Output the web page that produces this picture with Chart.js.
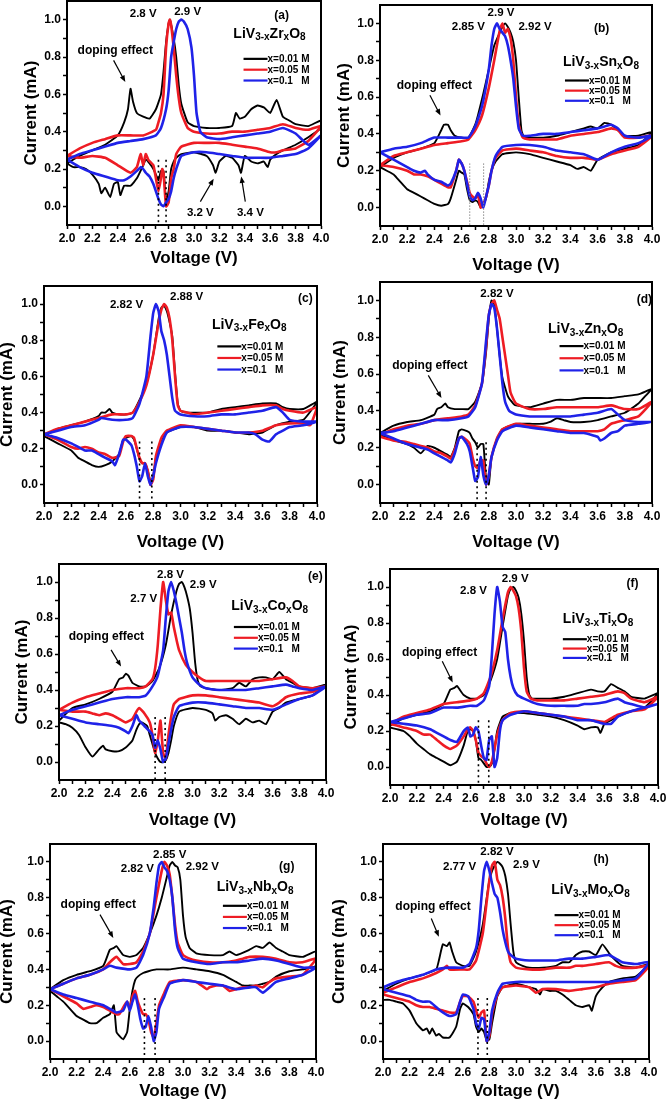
<!DOCTYPE html>
<html>
<head>
<meta charset="utf-8">
<title>CV curves of doped LiV3O8</title>
<script src="https://cdn.jsdelivr.net/npm/chart.js@4.4.1/dist/chart.umd.min.js"></script>
<style>
  html, body { margin: 0; padding: 0; background: #fff; }
  #page { position: relative; width: 666px; height: 1102px; overflow: hidden; background: #fff; }
  #page canvas { position: absolute; }
</style>
</head>
<body>
<div id="page"></div>
<script>
// tick labels
const voltTicks = [2.0, 2.2, 2.4, 2.6, 2.8, 3.0, 3.2, 3.4, 3.6, 3.8, 4.0];
const currentTicks = [0.0, 0.2, 0.4, 0.6, 0.8, 1.0];

const seriesLabels = ['x=0.01 M', 'x=0.05 M', 'x=0.1   M'];
const seriesColors = ['#000000', '#ee1c24', '#1f22e8'];
const dopants = ['Zr', 'Sn', 'Fe', 'Zn', 'Co', 'Ti', 'Nb', 'Mo'];
const panelTags = ['(a)', '(b)', '(c)', '(d)', '(e)', '(f)', '(g)', '(h)'];

// CV loops [V, mA]: anodic sweep 2.0 -> 4.0, then cathodic sweep back to 2.0
const zr001 = [[2.0,.23],[2.1,.27],[2.2,.30],[2.3,.33],[2.4,.38],[2.45,.45],[2.48,.52],[2.5,.63],[2.52,.56],[2.55,.5],[2.6,.48],[2.65,.47],[2.7,.52],[2.74,.6],[2.76,.72],[2.78,.88],[2.8,.98],[2.81,1.0],[2.84,.9],[2.86,.8],[2.88,.65],[2.9,.55],[2.95,.45],[3.0,.43],[3.1,.42],[3.2,.42],[3.3,.43],[3.33,.5],[3.36,.47],[3.4,.48],[3.45,.52],[3.5,.54],[3.55,.53],[3.6,.5],[3.65,.57],[3.7,.48],[3.75,.46],[3.8,.44],[3.9,.43],[4.0,.46],
  [4.0,.42],[3.9,.37],[3.8,.33],[3.7,.30],[3.65,.28],[3.6,.25],[3.58,.21],[3.55,.24],[3.5,.23],[3.45,.24],[3.4,.27],[3.37,.18],[3.35,.22],[3.3,.26],[3.25,.27],[3.2,.24],[3.17,.18],[3.15,.22],[3.1,.27],[3.0,.29],[2.9,.28],[2.86,.26],[2.84,.24],[2.82,.2],[2.8,.08],[2.78,.03],[2.76,.19],[2.74,.19],[2.72,.14],[2.7,.17],[2.68,.2],[2.65,.23],[2.62,.25],[2.6,.22],[2.55,.15],[2.5,.11],[2.45,.11],[2.42,.06],[2.4,.13],[2.37,.12],[2.34,.05],[2.3,.10],[2.27,.07],[2.25,.12],[2.2,.17],[2.15,.2],[2.1,.21],[2.05,.21],[2.0,.23]];
const zr005 = [[2.0,.27],[2.1,.31],[2.2,.34],[2.3,.36],[2.4,.38],[2.5,.38],[2.6,.38],[2.7,.41],[2.72,.45],[2.74,.5],[2.76,.6],[2.78,.85],[2.8,.98],[2.81,1.0],[2.82,.97],[2.84,.85],[2.86,.7],[2.88,.58],[2.9,.5],[2.95,.42],[3.0,.40],[3.1,.39],[3.2,.39],[3.3,.40],[3.4,.40],[3.5,.41],[3.6,.42],[3.7,.44],[3.8,.42],[3.9,.41],[4.0,.43],
  [3.9,.35],[3.8,.31],[3.7,.30],[3.65,.29],[3.6,.29],[3.5,.31],[3.4,.32],[3.3,.33],[3.2,.34],[3.1,.34],[3.0,.34],[2.9,.32],[2.86,.28],[2.84,.2],[2.82,.15],[2.8,.02],[2.78,0],[2.76,.18],[2.75,.2],[2.74,.15],[2.72,.08],[2.7,.15],[2.68,.22],[2.64,.25],[2.62,.28],[2.6,.22],[2.58,.28],[2.55,.21],[2.5,.18],[2.4,.22],[2.3,.26],[2.2,.27],[2.1,.26],[2.0,.27]];
const zr01 = [[2.0,.25],[2.1,.28],[2.2,.30],[2.3,.32],[2.4,.34],[2.5,.35],[2.6,.36],[2.7,.38],[2.74,.42],[2.78,.52],[2.8,.62],[2.82,.8],[2.84,.88],[2.86,.95],[2.88,.99],[2.9,1.0],[2.92,.99],[2.95,.95],[2.98,.85],[3.0,.7],[3.02,.5],[3.05,.4],[3.1,.37],[3.2,.36],[3.3,.37],[3.4,.38],[3.5,.39],[3.6,.40],[3.7,.42],[3.8,.39],[3.9,.33],[4.0,.38],
  [3.9,.31],[3.8,.28],[3.7,.27],[3.6,.26],[3.5,.26],[3.4,.26],[3.3,.27],[3.2,.28],[3.1,.29],[3.0,.29],[2.9,.27],[2.86,.2],[2.84,.15],[2.82,.08],[2.8,.04],[2.78,.02],[2.76,0],[2.74,.01],[2.72,.04],[2.7,.08],[2.68,.12],[2.65,.16],[2.62,.18],[2.6,.2],[2.58,.21],[2.55,.19],[2.5,.16],[2.45,.14],[2.4,.14],[2.3,.16],[2.2,.18],[2.1,.21],[2.0,.25]];

const sn001 = [[2.0,.22],[2.1,.27],[2.2,.30],[2.3,.32],[2.4,.35],[2.45,.42],[2.47,.45],[2.5,.45],[2.52,.42],[2.55,.39],[2.6,.38],[2.65,.38],[2.7,.45],[2.72,.5],[2.76,.62],[2.8,.75],[2.84,.88],[2.88,.95],[2.9,.98],[2.92,1.0],[2.94,.98],[2.96,.95],[2.98,.9],[3.0,.8],[3.02,.6],[3.04,.42],[3.06,.38],[3.1,.38],[3.2,.38],[3.3,.39],[3.4,.41],[3.5,.43],[3.55,.44],[3.6,.43],[3.65,.46],[3.7,.45],[3.75,.42],[3.8,.39],[3.9,.39],[4.0,.41],
  [3.9,.34],[3.8,.32],[3.7,.3],[3.6,.26],[3.55,.2],[3.5,.22],[3.45,.21],[3.4,.23],[3.3,.25],[3.2,.27],[3.1,.29],[3.0,.3],[2.9,.29],[2.85,.25],[2.82,.2],[2.8,.14],[2.78,.05],[2.76,.02],[2.74,0],[2.72,.03],[2.7,.04],[2.68,.03],[2.66,.04],[2.64,.1],[2.62,.18],[2.6,.19],[2.58,.2],[2.56,.15],[2.52,.05],[2.5,.02],[2.45,.01],[2.4,.02],[2.35,.04],[2.3,.06],[2.25,.08],[2.2,.1],[2.15,.14],[2.1,.18],[2.05,.2],[2.0,.22]];
const sn005 = [[2.0,.23],[2.1,.28],[2.2,.3],[2.3,.32],[2.4,.34],[2.5,.35],[2.6,.36],[2.65,.37],[2.7,.42],[2.75,.5],[2.8,.65],[2.84,.8],[2.88,.96],[2.9,1.0],[2.92,.95],[2.94,.97],[2.96,.92],[2.98,.8],[3.0,.6],[3.02,.45],[3.05,.38],[3.1,.37],[3.2,.37],[3.3,.37],[3.4,.39],[3.5,.4],[3.6,.41],[3.7,.43],[3.75,.42],[3.8,.38],[3.9,.38],[4.0,.39],
  [3.9,.33],[3.8,.31],[3.7,.29],[3.6,.26],[3.5,.27],[3.4,.27],[3.3,.28],[3.2,.3],[3.1,.31],[3.0,.32],[2.9,.31],[2.85,.27],[2.82,.2],[2.8,.12],[2.78,.06],[2.76,.02],[2.74,0],[2.72,.07],[2.7,.05],[2.68,.06],[2.66,.08],[2.64,.14],[2.62,.2],[2.6,.24],[2.58,.26],[2.56,.2],[2.52,.11],[2.5,.11],[2.45,.13],[2.4,.15],[2.35,.17],[2.3,.18],[2.25,.18],[2.2,.2],[2.1,.22],[2.0,.23]];
const sn01 = [[2.0,.3],[2.1,.32],[2.2,.33],[2.3,.35],[2.4,.38],[2.5,.38],[2.6,.38],[2.65,.38],[2.7,.44],[2.75,.55],[2.8,.75],[2.82,.88],[2.84,.97],[2.86,1.0],[2.88,.97],[2.9,.95],[2.92,.93],[2.94,.88],[2.96,.8],[2.98,.7],[3.0,.55],[3.02,.43],[3.05,.39],[3.1,.39],[3.2,.4],[3.3,.4],[3.4,.41],[3.5,.42],[3.6,.43],[3.65,.44],[3.7,.45],[3.75,.43],[3.8,.39],[3.9,.38],[4.0,.39],
  [3.9,.35],[3.8,.33],[3.7,.3],[3.6,.26],[3.5,.29],[3.4,.3],[3.3,.31],[3.2,.33],[3.1,.34],[3.0,.34],[2.9,.33],[2.85,.28],[2.82,.2],[2.8,.12],[2.78,.06],[2.76,0],[2.74,.05],[2.72,.08],[2.7,.05],[2.68,.04],[2.66,.06],[2.64,.13],[2.62,.2],[2.6,.24],[2.58,.26],[2.56,.2],[2.52,.13],[2.5,.12],[2.45,.14],[2.4,.15],[2.35,.18],[2.33,.2],[2.3,.19],[2.25,.2],[2.2,.22],[2.1,.26],[2.0,.3]];

const fe001 = [[2.0,.27],[2.1,.31],[2.2,.33],[2.3,.35],[2.4,.38],[2.42,.4],[2.45,.4],[2.48,.42],[2.5,.4],[2.55,.39],[2.6,.39],[2.65,.4],[2.7,.47],[2.75,.56],[2.8,.72],[2.84,.92],[2.86,.98],[2.88,.99],[2.9,.96],[2.92,.9],[2.94,.82],[2.96,.62],[2.98,.45],[3.0,.41],[3.05,.4],[3.1,.4],[3.2,.4],[3.3,.42],[3.4,.43],[3.5,.44],[3.6,.45],[3.7,.45],[3.75,.43],[3.8,.42],[3.9,.42],[4.0,.46],
  [3.9,.36],[3.8,.35],[3.7,.33],[3.6,.29],[3.5,.28],[3.4,.29],[3.3,.3],[3.2,.3],[3.1,.32],[3.0,.32],[2.9,.29],[2.86,.25],[2.82,.15],[2.8,.04],[2.78,.02],[2.76,.08],[2.74,.12],[2.72,.12],[2.7,.14],[2.68,.2],[2.66,.25],[2.64,.27],[2.6,.26],[2.58,.25],[2.55,.17],[2.5,.13],[2.45,.11],[2.4,.1],[2.35,.11],[2.3,.13],[2.25,.15],[2.2,.19],[2.1,.23],[2.0,.27]];
const fe005 = [[2.0,.28],[2.1,.31],[2.2,.33],[2.3,.35],[2.4,.37],[2.5,.39],[2.6,.39],[2.65,.4],[2.7,.46],[2.75,.55],[2.8,.72],[2.84,.9],[2.86,.97],[2.88,1.0],[2.9,.98],[2.92,.92],[2.94,.8],[2.96,.6],[2.98,.44],[3.0,.41],[3.05,.4],[3.1,.39],[3.2,.4],[3.3,.41],[3.4,.42],[3.5,.43],[3.6,.44],[3.7,.44],[3.75,.42],[3.8,.41],[3.9,.4],[4.0,.43],
  [3.95,.33],[3.9,.34],[3.8,.34],[3.7,.33],[3.6,.3],[3.5,.29],[3.4,.29],[3.3,.3],[3.2,.31],[3.1,.32],[3.0,.33],[2.9,.3],[2.86,.26],[2.82,.16],[2.8,.03],[2.78,0],[2.76,.08],[2.74,.12],[2.72,.12],[2.7,.15],[2.68,.2],[2.66,.26],[2.64,.27],[2.6,.27],[2.58,.24],[2.55,.16],[2.5,.15],[2.45,.17],[2.4,.18],[2.35,.2],[2.3,.21],[2.25,.2],[2.2,.21],[2.1,.25],[2.0,.28]];
const fe01 = [[2.0,.28],[2.1,.3],[2.2,.32],[2.3,.33],[2.4,.36],[2.42,.37],[2.5,.36],[2.6,.36],[2.65,.37],[2.7,.45],[2.75,.6],[2.78,.82],[2.8,.95],[2.82,1.0],[2.84,.96],[2.86,.85],[2.88,.8],[2.9,.72],[2.92,.6],[2.94,.48],[2.96,.41],[3.0,.39],[3.1,.38],[3.2,.38],[3.3,.39],[3.4,.39],[3.5,.4],[3.6,.41],[3.7,.43],[3.75,.4],[3.8,.36],[3.9,.35],[4.0,.35],
  [3.9,.33],[3.8,.32],[3.75,.3],[3.7,.28],[3.65,.24],[3.6,.25],[3.55,.28],[3.5,.29],[3.4,.29],[3.3,.3],[3.2,.31],[3.1,.32],[3.0,.32],[2.9,.29],[2.86,.22],[2.82,.12],[2.8,.05],[2.78,0],[2.76,.05],[2.74,.12],[2.72,.05],[2.7,.02],[2.68,.1],[2.66,.17],[2.64,.22],[2.6,.25],[2.58,.25],[2.55,.17],[2.52,.11],[2.5,.13],[2.45,.15],[2.4,.17],[2.35,.19],[2.3,.19],[2.25,.21],[2.2,.23],[2.1,.26],[2.0,.28]];

const zn001 = [[2.0,.28],[2.1,.32],[2.2,.34],[2.3,.35],[2.4,.38],[2.42,.41],[2.45,.42],[2.48,.44],[2.5,.42],[2.55,.41],[2.6,.41],[2.65,.41],[2.7,.45],[2.75,.55],[2.78,.72],[2.8,.9],[2.82,1.0],[2.84,.98],[2.86,.85],[2.88,.7],[2.9,.58],[2.94,.48],[2.98,.44],[3.0,.43],[3.1,.42],[3.2,.44],[3.3,.46],[3.4,.46],[3.5,.47],[3.6,.47],[3.7,.47],[3.8,.48],[3.9,.49],[4.0,.52],
  [3.95,.48],[3.9,.44],[3.8,.39],[3.7,.37],[3.6,.35],[3.5,.34],[3.4,.34],[3.35,.35],[3.3,.36],[3.25,.34],[3.2,.33],[3.1,.33],[3.0,.33],[2.9,.3],[2.86,.25],[2.82,.15],[2.8,0],[2.78,.03],[2.76,.22],[2.74,.22],[2.72,.2],[2.7,.23],[2.68,.25],[2.66,.28],[2.64,.29],[2.6,.3],[2.58,.29],[2.55,.2],[2.52,.15],[2.5,.16],[2.45,.18],[2.4,.2],[2.35,.21],[2.3,.17],[2.25,.2],[2.2,.22],[2.1,.24],[2.0,.27]];
const zn005 = [[2.0,.27],[2.1,.3],[2.2,.32],[2.3,.33],[2.4,.35],[2.5,.36],[2.6,.37],[2.65,.38],[2.7,.43],[2.75,.55],[2.78,.75],[2.8,.92],[2.82,.98],[2.84,1.0],[2.86,.95],[2.88,.9],[2.9,.8],[2.92,.7],[2.94,.6],[2.96,.5],[3.0,.44],[3.1,.41],[3.2,.41],[3.3,.42],[3.4,.42],[3.5,.42],[3.6,.42],[3.7,.43],[3.75,.42],[3.8,.41],[3.9,.41],[4.0,.45],
  [3.9,.37],[3.8,.35],[3.7,.33],[3.65,.3],[3.6,.29],[3.5,.29],[3.4,.29],[3.3,.3],[3.2,.31],[3.1,.32],[3.0,.33],[2.9,.3],[2.86,.25],[2.82,.15],[2.8,.05],[2.78,0],[2.76,.13],[2.74,.13],[2.72,.09],[2.7,.1],[2.68,.15],[2.66,.22],[2.64,.24],[2.6,.26],[2.58,.25],[2.55,.19],[2.52,.14],[2.5,.15],[2.45,.17],[2.4,.18],[2.35,.2],[2.3,.21],[2.25,.22],[2.2,.23],[2.1,.24],[2.0,.26]];
const zn01 = [[2.0,.28],[2.1,.29],[2.2,.31],[2.3,.33],[2.4,.35],[2.5,.35],[2.6,.36],[2.65,.37],[2.7,.42],[2.75,.55],[2.78,.78],[2.8,.92],[2.82,.98],[2.84,.96],[2.86,.85],[2.88,.7],[2.9,.55],[2.92,.45],[2.95,.4],[3.0,.38],[3.1,.37],[3.2,.37],[3.3,.37],[3.4,.37],[3.5,.38],[3.6,.39],[3.7,.41],[3.75,.38],[3.8,.35],[3.9,.34],[4.0,.34],
  [3.9,.33],[3.8,.32],[3.75,.29],[3.7,.28],[3.65,.25],[3.62,.24],[3.6,.26],[3.5,.28],[3.4,.28],[3.3,.29],[3.2,.3],[3.1,.31],[3.0,.32],[2.9,.29],[2.86,.24],[2.82,.15],[2.8,.05],[2.78,0],[2.76,.05],[2.74,.15],[2.72,.04],[2.7,.02],[2.68,.1],[2.66,.18],[2.64,.22],[2.6,.26],[2.58,.25],[2.55,.17],[2.52,.12],[2.5,.13],[2.45,.15],[2.4,.17],[2.35,.19],[2.3,.2],[2.25,.21],[2.2,.22],[2.1,.25],[2.0,.28]];

const co001 = [[2.0,.23],[2.1,.3],[2.2,.32],[2.3,.35],[2.4,.39],[2.45,.46],[2.48,.47],[2.5,.49],[2.52,.48],[2.55,.44],[2.6,.42],[2.65,.42],[2.7,.45],[2.75,.52],[2.8,.65],[2.84,.82],[2.88,.95],[2.9,.99],[2.92,1.0],[2.94,.97],[2.96,.92],[2.98,.85],[3.0,.72],[3.02,.55],[3.04,.45],[3.06,.42],[3.1,.41],[3.2,.4],[3.3,.41],[3.35,.44],[3.4,.42],[3.45,.46],[3.5,.47],[3.55,.47],[3.6,.46],[3.65,.5],[3.7,.46],[3.75,.44],[3.8,.42],[3.9,.41],[4.0,.43],
  [3.9,.37],[3.8,.35],[3.7,.33],[3.65,.3],[3.6,.28],[3.55,.21],[3.5,.23],[3.45,.22],[3.4,.24],[3.35,.21],[3.3,.24],[3.25,.26],[3.2,.25],[3.17,.23],[3.15,.27],[3.1,.29],[3.0,.3],[2.9,.28],[2.86,.2],[2.84,.12],[2.82,.05],[2.8,.01],[2.78,0],[2.76,0],[2.74,.02],[2.72,.05],[2.7,.1],[2.68,.15],[2.66,.2],[2.62,.22],[2.6,.21],[2.58,.18],[2.55,.12],[2.5,.08],[2.45,.06],[2.4,.06],[2.35,.07],[2.33,.09],[2.3,.07],[2.25,.03],[2.2,.08],[2.15,.15],[2.1,.19],[2.05,.21],[2.0,.22]];
const co005 = [[2.0,.29],[2.1,.33],[2.2,.36],[2.3,.38],[2.4,.4],[2.5,.41],[2.6,.41],[2.65,.42],[2.7,.46],[2.72,.52],[2.74,.65],[2.76,.85],[2.78,1.0],[2.8,.9],[2.82,.82],[2.84,.83],[2.86,.75],[2.88,.68],[2.9,.62],[2.95,.54],[3.0,.5],[3.05,.47],[3.1,.45],[3.2,.45],[3.3,.45],[3.4,.45],[3.5,.45],[3.6,.46],[3.7,.47],[3.75,.45],[3.8,.42],[3.9,.41],[4.0,.42],
  [3.9,.39],[3.8,.38],[3.7,.36],[3.65,.33],[3.6,.31],[3.5,.33],[3.4,.34],[3.3,.35],[3.2,.36],[3.1,.37],[3.0,.37],[2.9,.35],[2.86,.32],[2.84,.25],[2.82,.15],[2.8,.02],[2.78,.05],[2.76,.23],[2.74,.12],[2.72,.05],[2.7,.15],[2.68,.22],[2.64,.27],[2.6,.3],[2.58,.28],[2.55,.24],[2.5,.22],[2.45,.24],[2.4,.26],[2.35,.27],[2.3,.26],[2.25,.27],[2.2,.28],[2.1,.28],[2.0,.29]];
const co01 = [[2.0,.26],[2.1,.29],[2.2,.31],[2.3,.33],[2.4,.35],[2.5,.36],[2.6,.36],[2.65,.37],[2.7,.42],[2.74,.48],[2.78,.62],[2.8,.8],[2.82,.95],[2.84,1.0],[2.86,.95],[2.88,.88],[2.9,.8],[2.92,.72],[2.94,.62],[2.96,.55],[3.0,.47],[3.05,.43],[3.1,.41],[3.2,.4],[3.3,.4],[3.4,.4],[3.5,.41],[3.6,.42],[3.7,.43],[3.75,.42],[3.8,.41],[3.9,.4],[4.0,.42],
  [3.9,.37],[3.8,.35],[3.7,.32],[3.6,.29],[3.5,.3],[3.4,.3],[3.3,.31],[3.2,.32],[3.1,.33],[3.0,.33],[2.9,.31],[2.86,.25],[2.84,.18],[2.82,.1],[2.8,.02],[2.78,0],[2.76,.07],[2.74,.12],[2.72,.08],[2.7,.15],[2.68,.17],[2.64,.2],[2.6,.23],[2.58,.26],[2.55,.2],[2.52,.16],[2.5,.17],[2.45,.19],[2.4,.2],[2.3,.21],[2.2,.22],[2.1,.24],[2.0,.26]];

const ti001 = [[2.0,.23],[2.1,.27],[2.2,.29],[2.3,.31],[2.4,.35],[2.45,.43],[2.48,.44],[2.5,.45],[2.52,.43],[2.55,.4],[2.6,.38],[2.65,.38],[2.7,.4],[2.75,.48],[2.8,.6],[2.84,.78],[2.88,.95],[2.9,.99],[2.92,1.0],[2.94,.98],[2.96,.94],[2.98,.85],[3.0,.7],[3.02,.5],[3.04,.4],[3.06,.38],[3.1,.38],[3.2,.38],[3.3,.39],[3.4,.41],[3.5,.43],[3.55,.42],[3.6,.42],[3.65,.46],[3.7,.44],[3.75,.42],[3.8,.39],[3.9,.38],[4.0,.41],
  [3.9,.33],[3.8,.31],[3.7,.28],[3.65,.26],[3.6,.24],[3.57,.19],[3.55,.22],[3.5,.22],[3.45,.21],[3.4,.23],[3.3,.26],[3.2,.28],[3.1,.29],[3.0,.3],[2.9,.3],[2.84,.28],[2.8,.2],[2.78,.1],[2.76,.02],[2.74,0],[2.72,0],[2.7,.02],[2.68,.04],[2.66,.05],[2.64,.15],[2.62,.2],[2.6,.21],[2.58,.2],[2.55,.12],[2.5,.03],[2.45,.01],[2.4,.03],[2.35,.05],[2.3,.07],[2.25,.1],[2.2,.13],[2.15,.17],[2.1,.2],[2.05,.21],[2.0,.22]];
const ti005 = [[2.0,.24],[2.1,.28],[2.2,.3],[2.3,.32],[2.4,.35],[2.5,.36],[2.6,.37],[2.65,.38],[2.7,.41],[2.75,.5],[2.8,.65],[2.84,.82],[2.88,.97],[2.9,1.0],[2.92,.98],[2.94,.95],[2.96,.88],[2.98,.75],[3.0,.55],[3.02,.42],[3.05,.38],[3.1,.37],[3.2,.37],[3.3,.37],[3.4,.38],[3.5,.39],[3.6,.4],[3.7,.42],[3.75,.41],[3.8,.38],[3.9,.36],[4.0,.39],
  [3.9,.32],[3.8,.31],[3.7,.29],[3.65,.27],[3.6,.25],[3.5,.26],[3.4,.27],[3.3,.28],[3.2,.29],[3.1,.3],[3.0,.31],[2.9,.3],[2.84,.26],[2.8,.18],[2.78,.1],[2.76,.03],[2.74,0],[2.72,.02],[2.7,.05],[2.68,.06],[2.66,.08],[2.64,.15],[2.62,.2],[2.6,.22],[2.58,.21],[2.55,.17],[2.5,.12],[2.45,.1],[2.4,.12],[2.35,.15],[2.3,.18],[2.25,.18],[2.2,.2],[2.1,.22],[2.0,.24]];
const ti01 = [[2.0,.25],[2.1,.27],[2.2,.29],[2.3,.3],[2.4,.33],[2.5,.33],[2.6,.34],[2.65,.34],[2.7,.37],[2.74,.45],[2.76,.62],[2.78,.85],[2.8,1.0],[2.82,.92],[2.84,.78],[2.86,.75],[2.88,.6],[2.9,.5],[2.92,.44],[2.95,.4],[3.0,.38],[3.1,.35],[3.2,.34],[3.3,.34],[3.4,.34],[3.45,.35],[3.5,.35],[3.6,.36],[3.7,.38],[3.75,.36],[3.8,.35],[3.9,.33],[4.0,.35],
  [3.9,.33],[3.8,.31],[3.7,.28],[3.65,.24],[3.6,.24],[3.5,.26],[3.4,.26],[3.3,.28],[3.2,.29],[3.1,.3],[3.0,.31],[2.9,.29],[2.84,.26],[2.82,.2],[2.8,.05],[2.78,0],[2.76,.17],[2.74,.15],[2.72,.04],[2.7,.05],[2.68,.12],[2.66,.2],[2.64,.22],[2.62,.18],[2.6,.17],[2.58,.22],[2.55,.2],[2.5,.14],[2.45,.15],[2.4,.17],[2.35,.19],[2.3,.21],[2.2,.23],[2.1,.24],[2.0,.25]];

const nb001 = [[2.0,.29],[2.1,.34],[2.2,.37],[2.3,.39],[2.4,.42],[2.45,.51],[2.48,.52],[2.5,.53],[2.52,.51],[2.55,.48],[2.6,.47],[2.65,.48],[2.7,.52],[2.75,.6],[2.8,.7],[2.84,.8],[2.88,.92],[2.9,.98],[2.92,1.0],[2.94,.98],[2.96,.97],[2.98,.9],[3.0,.7],[3.02,.58],[3.05,.52],[3.1,.49],[3.2,.48],[3.3,.48],[3.35,.5],[3.4,.48],[3.5,.51],[3.55,.53],[3.6,.52],[3.65,.55],[3.7,.52],[3.75,.5],[3.8,.48],[3.9,.47],[4.0,.5],
  [4.0,.42],[3.9,.4],[3.8,.39],[3.7,.36],[3.65,.33],[3.6,.32],[3.55,.31],[3.5,.31],[3.45,.31],[3.4,.33],[3.3,.37],[3.2,.39],[3.1,.4],[3.0,.41],[2.9,.4],[2.8,.4],[2.74,.39],[2.7,.38],[2.66,.36],[2.64,.34],[2.62,.28],[2.6,.18],[2.58,.05],[2.55,.01],[2.52,.03],[2.5,.05],[2.48,.2],[2.45,.15],[2.4,.13],[2.35,.1],[2.3,.1],[2.25,.12],[2.2,.14],[2.15,.18],[2.1,.22],[2.05,.25],[2.0,.28]];
const nb005 = [[2.0,.29],[2.1,.32],[2.2,.35],[2.3,.37],[2.4,.4],[2.45,.44],[2.5,.47],[2.55,.43],[2.6,.43],[2.65,.44],[2.7,.5],[2.75,.6],[2.8,.8],[2.84,.95],[2.86,1.0],[2.88,.98],[2.9,.93],[2.92,.8],[2.94,.65],[2.96,.55],[3.0,.48],[3.05,.46],[3.1,.45],[3.2,.44],[3.3,.44],[3.4,.45],[3.45,.46],[3.5,.47],[3.6,.47],[3.7,.46],[3.8,.44],[3.9,.44],[4.0,.46],
  [3.9,.37],[3.8,.36],[3.7,.35],[3.65,.33],[3.6,.3],[3.55,.31],[3.5,.3],[3.45,.3],[3.4,.29],[3.35,.28],[3.3,.31],[3.25,.31],[3.2,.3],[3.18,.29],[3.1,.33],[3.0,.34],[2.9,.33],[2.86,.27],[2.82,.2],[2.8,.1],[2.78,.02],[2.76,.05],[2.74,.12],[2.72,.15],[2.7,.15],[2.68,.18],[2.66,.22],[2.64,.28],[2.62,.25],[2.6,.18],[2.58,.22],[2.56,.2],[2.52,.15],[2.5,.15],[2.45,.17],[2.4,.19],[2.35,.2],[2.3,.19],[2.25,.18],[2.2,.21],[2.1,.25],[2.0,.29]];
const nb01 = [[2.0,.29],[2.1,.32],[2.2,.35],[2.3,.37],[2.4,.4],[2.45,.42],[2.5,.41],[2.6,.4],[2.65,.41],[2.7,.48],[2.75,.6],[2.78,.75],[2.8,.88],[2.82,.98],[2.84,1.0],[2.86,.97],[2.88,.95],[2.9,.9],[2.92,.8],[2.94,.62],[2.96,.52],[3.0,.46],[3.1,.44],[3.2,.43],[3.3,.44],[3.4,.44],[3.5,.45],[3.6,.46],[3.7,.45],[3.8,.43],[3.9,.41],[4.0,.41],
  [3.9,.37],[3.8,.35],[3.7,.33],[3.6,.27],[3.55,.3],[3.5,.3],[3.4,.29],[3.3,.31],[3.2,.32],[3.1,.33],[3.0,.34],[2.9,.32],[2.86,.25],[2.82,.18],[2.8,.05],[2.78,0],[2.76,.08],[2.74,.14],[2.72,.08],[2.7,.07],[2.68,.12],[2.66,.2],[2.64,.26],[2.62,.22],[2.6,.17],[2.58,.22],[2.55,.17],[2.5,.16],[2.45,.18],[2.4,.2],[2.35,.21],[2.3,.22],[2.2,.24],[2.1,.26],[2.0,.29]];

const mo001 = [[2.0,.28],[2.1,.32],[2.2,.35],[2.3,.37],[2.4,.4],[2.42,.45],[2.45,.54],[2.48,.53],[2.5,.55],[2.52,.5],[2.55,.44],[2.6,.42],[2.65,.42],[2.7,.5],[2.75,.65],[2.78,.8],[2.8,.9],[2.82,.95],[2.84,.98],[2.86,1.0],[2.88,.99],[2.9,.97],[2.92,.92],[2.94,.82],[2.96,.65],[2.98,.5],[3.0,.44],[3.05,.42],[3.1,.41],[3.2,.41],[3.3,.42],[3.35,.44],[3.4,.44],[3.45,.48],[3.5,.5],[3.55,.5],[3.6,.48],[3.65,.54],[3.7,.49],[3.75,.45],[3.8,.42],[3.9,.41],[4.0,.43],
  [3.9,.36],[3.8,.35],[3.7,.33],[3.65,.3],[3.6,.25],[3.57,.17],[3.55,.2],[3.5,.19],[3.45,.2],[3.4,.23],[3.35,.26],[3.3,.28],[3.25,.28],[3.2,.29],[3.18,.26],[3.15,.29],[3.1,.3],[3.0,.32],[2.9,.3],[2.86,.25],[2.84,.18],[2.82,.1],[2.8,.01],[2.78,0],[2.76,.05],[2.74,.07],[2.72,.05],[2.7,.08],[2.68,.15],[2.64,.19],[2.6,.21],[2.58,.18],[2.55,.08],[2.5,.02],[2.45,.02],[2.42,.04],[2.4,.03],[2.37,.07],[2.35,.04],[2.33,.07],[2.3,.06],[2.25,.1],[2.2,.17],[2.15,.21],[2.1,.22],[2.05,.23],[2.0,.23]];
const mo005 = [[2.0,.27],[2.1,.3],[2.2,.33],[2.3,.35],[2.4,.38],[2.45,.4],[2.48,.42],[2.5,.4],[2.6,.4],[2.65,.4],[2.7,.45],[2.75,.6],[2.78,.78],[2.8,.9],[2.82,.98],[2.84,1.0],[2.86,.9],[2.88,.87],[2.9,.8],[2.92,.68],[2.94,.52],[2.96,.44],[3.0,.41],[3.1,.4],[3.2,.4],[3.3,.41],[3.4,.41],[3.45,.42],[3.5,.42],[3.6,.43],[3.7,.44],[3.75,.42],[3.8,.41],[3.9,.41],[4.0,.42],
  [3.9,.34],[3.8,.33],[3.7,.32],[3.6,.3],[3.5,.29],[3.4,.28],[3.3,.29],[3.2,.29],[3.15,.27],[3.1,.3],[3.0,.31],[2.9,.3],[2.86,.26],[2.82,.15],[2.8,.03],[2.78,0],[2.76,.17],[2.74,.16],[2.72,.13],[2.7,.17],[2.68,.22],[2.64,.25],[2.6,.25],[2.58,.22],[2.55,.16],[2.5,.16],[2.45,.17],[2.4,.18],[2.35,.19],[2.3,.19],[2.25,.2],[2.2,.22],[2.1,.24],[2.0,.26]];
const mo01 = [[2.0,.3],[2.1,.33],[2.2,.35],[2.3,.37],[2.4,.4],[2.5,.41],[2.6,.41],[2.65,.43],[2.7,.52],[2.72,.62],[2.74,.8],[2.76,.95],[2.78,1.0],[2.8,.95],[2.82,.88],[2.84,.82],[2.86,.8],[2.88,.72],[2.9,.62],[2.92,.55],[2.94,.5],[2.96,.48],[3.0,.46],[3.1,.45],[3.2,.45],[3.3,.45],[3.4,.46],[3.5,.46],[3.6,.47],[3.7,.48],[3.75,.46],[3.8,.44],[3.9,.43],[4.0,.44],
  [3.9,.35],[3.8,.34],[3.7,.33],[3.6,.33],[3.5,.33],[3.4,.33],[3.3,.33],[3.2,.33],[3.1,.33],[3.0,.33],[2.9,.32],[2.86,.27],[2.82,.17],[2.8,.05],[2.78,0],[2.76,.12],[2.74,.13],[2.72,.07],[2.7,.1],[2.68,.18],[2.64,.25],[2.6,.26],[2.58,.22],[2.55,.15],[2.5,.14],[2.45,.16],[2.4,.19],[2.35,.22],[2.3,.22],[2.25,.23],[2.2,.25],[2.1,.27],[2.0,.29]];

const loops = [
  [zr001, zr005, zr01], [sn001, sn005, sn01], [fe001, fe005, fe01], [zn001, zn005, zn01],
  [co001, co005, co01], [ti001, ti005, ti01], [nb001, nb005, nb01], [mo001, mo005, mo01]
];

// ---- layout (page pixels): plot area [left, top, right, bottom] and axis title centres ----
const plotBoxes = [
  [67, 1, 321, 225], [380, 5, 652, 226],
  [44, 286, 317, 503], [380, 282, 652, 503],
  [59, 564, 326, 780], [390, 569, 658, 785],
  [50, 844, 316, 1059], [383, 844, 649, 1059]
];
const titleSpots = [[31, 258], [344, 265], [7, 542], [340, 542], [22, 820], [351, 820], [7, 1091], [339, 1091]];

// ---- annotations, in axis units ----
const peakNotes = [
  [['2.8 V', 2.60, 1.03], ['2.9 V', 2.95, 1.04]],
  [['2.9 V', 2.89, 1.055], ['2.85 V', 2.65, 0.98], ['2.92 V', 3.14, 0.98]],
  [['2.82 V', 2.605, 0.995], ['2.88 V', 3.045, 1.04]],
  [['2.82 V', 2.86, 1.036]],
  [['2.8 V', 2.835, 1.04], ['2.7 V', 2.635, 0.905], ['2.9 V', 3.08, 0.985]],
  [['2.9 V', 2.934, 1.044], ['2.8 V', 2.623, 0.976]],
  [['2.85 V', 2.90, 1.04], ['2.82 V', 2.657, 0.963], ['2.92 V', 3.145, 0.972]],
  [['2.82 V', 2.857, 1.056], ['2.77 V', 2.576, 0.972], ['2.9 V', 3.078, 0.985]]
];
const tagPos = [[3.69, 1.02], [3.63, 0.973], [3.915, 1.03], [3.944, 1.005], [3.92, 1.03], [3.81, 1.02], [3.78, 0.972], [3.64, 1.01]];
const formulaPos = [[3.31, 0.925], [3.345, 0.79], [3.23, 0.886], [3.235, 0.846], [3.29, 0.865], [3.29, 0.82], [3.253, 0.86], [3.265, 0.842]];
// legend: [line start V, first row current, row step]
const legendPos = [[3.39, 0.79, 0.058], [3.36, 0.69, 0.055], [3.27, 0.766, 0.064], [3.32, 0.752, 0.066],
  [3.31, 0.75, 0.06], [3.29, 0.71, 0.052], [3.30, 0.755, 0.062], [3.29, 0.703, 0.056]];
// "doping effect": [text V, text I, arrow from V, I, arrow to V, I]
const dopingNotes = [[2.38, 0.836, 2.367, 0.782, 2.459, 0.666], [2.40, 0.66, 2.367, 0.61, 2.445, 0.50], null,
  [2.367, 0.647, 2.355, 0.593, 2.452, 0.47], [2.355, 0.694, 2.39, 0.623, 2.465, 0.53],
  [2.37, 0.633, 2.39, 0.587, 2.468, 0.47], [2.363, 0.762, 2.376, 0.706, 2.476, 0.576],
  [2.376, 0.749, 2.363, 0.684, 2.42, 0.582]];
// dotted guides [V1, V2, top current]
const dotLines = [[2.72, 2.78, 0.25], [2.66, 2.762, 0.24], [2.70, 2.79, 0.24], [2.714, 2.78, 0.23],
  [2.72, 2.795, 0.25], [2.66, 2.737, 0.26], [2.71, 2.79, 0.24], [2.714, 2.784, 0.24]];
// extra reduction peak labels in (a): [text, text V, text I, from V, I, to V, I]
const extraNotes = [['3.2 V', 3.05, -0.034, 3.05, 0.025, 3.155, 0.148], ['3.4 V', 3.444, -0.034, 3.404, 0.025, 3.372, 0.16]];

const FONT = '"Liberation Sans", Arial, sans-serif';
Chart.defaults.font.family = FONT;
Chart.defaults.font.weight = 'bold';
Chart.defaults.color = '#000';

function drawArrow(ctx, x0, y0, x1, y1) {
  const ang = Math.atan2(y1 - y0, x1 - x0), h = 7;
  ctx.beginPath();
  ctx.moveTo(x0, y0);
  ctx.lineTo(x1 - Math.cos(ang) * h * 0.7, y1 - Math.sin(ang) * h * 0.7);
  ctx.stroke();
  ctx.beginPath();
  ctx.moveTo(x1, y1);
  ctx.lineTo(x1 - h * Math.cos(ang - 0.38), y1 - h * Math.sin(ang - 0.38));
  ctx.lineTo(x1 - h * Math.cos(ang + 0.38), y1 - h * Math.sin(ang + 0.38));
  ctx.closePath();
  ctx.fill();
}

function drawFormula(ctx, x, y, dopant) {
  const parts = [['LiV', 0], ['3-x', 1], [dopant, 0], ['x', 1], ['O', 0], ['8', 1]];
  let cx = x;
  ctx.textAlign = 'left';
  for (const [t, sub] of parts) {
    ctx.font = sub ? `bold 10px ${FONT}` : `bold 14px ${FONT}`;
    ctx.fillText(t, cx, sub ? y + 4 : y);
    cx += ctx.measureText(t).width;
  }
}

const cvNotes = {
  id: 'cvNotes',
  afterDatasetsDraw(chart, args, opts) {
    const i = opts.panel;
    const {ctx, chartArea: a, scales: {x, y}} = chart;
    const dl = dotLines[i];
    ctx.save();
    ctx.setLineDash(i === 1 ? [1.5, 1.5] : [2, 3.5]);
    ctx.lineWidth = i === 1 ? 1 : 1.6;
    ctx.strokeStyle = i === 1 ? '#8c8c8c' : '#000';
    [dl[0], dl[1]].forEach(v => {
      ctx.beginPath();
      ctx.moveTo(x.getPixelForValue(v), y.getPixelForValue(dl[2]));
      ctx.lineTo(x.getPixelForValue(v), a.bottom);
      ctx.stroke();
    });
    ctx.restore();
  },
  afterDraw(chart, args, opts) {
    const i = opts.panel;
    const {ctx, chartArea: a, scales: {x, y}} = chart;
    const px = v => x.getPixelForValue(v), py = v => y.getPixelForValue(v);
    ctx.save();
    // closed frame
    ctx.strokeStyle = '#000';
    ctx.lineWidth = 2;
    ctx.strokeRect(a.left, a.top, a.right - a.left, a.bottom - a.top);

    ctx.fillStyle = '#000';
    ctx.textBaseline = 'middle';
    ctx.textAlign = 'center';
    ctx.font = `bold 11.5px ${FONT}`;
    peakNotes[i].forEach(([t, v, c]) => ctx.fillText(t, px(v), py(c)));
    ctx.font = `bold 12px ${FONT}`;
    ctx.fillText(panelTags[i], px(tagPos[i][0]), py(tagPos[i][1]));

    drawFormula(ctx, px(formulaPos[i][0]), py(formulaPos[i][1]), dopants[i]);

    // legend
    const [lv, li, step] = legendPos[i];
    ctx.font = `bold 10px ${FONT}`;
    ctx.textAlign = 'left';
    seriesLabels.forEach((lab, s) => {
      const yy = py(li - s * step), x0 = px(lv);
      ctx.strokeStyle = seriesColors[s];
      ctx.lineWidth = 2.2;
      ctx.beginPath();
      ctx.moveTo(x0, yy);
      ctx.lineTo(x0 + 24, yy);
      ctx.stroke();
      ctx.fillStyle = '#000';
      ctx.fillText(lab, x0 + 24, yy + 0.5);
    });

    ctx.strokeStyle = '#000';
    ctx.fillStyle = '#000';
    ctx.lineWidth = 1.2;
    const dn = dopingNotes[i];
    if (dn) {
      ctx.font = `bold 12px ${FONT}`;
      ctx.textAlign = 'center';
      ctx.fillText('doping effect', px(dn[0]), py(dn[1]));
      drawArrow(ctx, px(dn[2]), py(dn[3]), px(dn[4]), py(dn[5]));
    }
    if (i === 0) {
      ctx.font = `bold 11.5px ${FONT}`;
      ctx.textAlign = 'center';
      extraNotes.forEach(n => {
        ctx.fillText(n[0], px(n[1]), py(n[2]));
        drawArrow(ctx, px(n[3]), py(n[4]), px(n[5]), py(n[6]));
      });
    }
    ctx.restore();
  }
};
Chart.register(cvNotes);

const xTickValues = [];
for (let k = 20; k <= 40; k++) xTickValues.push(k / 10);
const yTickValues = [];
for (let k = 0; k <= 10; k++) yTickValues.push(k / 10);
const hasLabel = (list, v) => list.some(t => Math.round(t * 10) === Math.round(v * 10));

const page = document.getElementById('page');
const Y_W = 70, X_H = 60, PAD_T = 10, PAD_R = 25;

plotBoxes.forEach((b, i) => {
  const [L, T, R, B] = b;
  const cl = L - Y_W, ct = T - PAD_T, cw = R + PAD_R - cl, ch = B + X_H - ct;
  const cv = document.createElement('canvas');
  cv.width = cw;
  cv.height = ch;
  cv.style.left = cl + 'px';
  cv.style.top = ct + 'px';
  cv.style.width = cw + 'px';
  cv.style.height = ch + 'px';
  page.appendChild(cv);
  const [tX, tY] = titleSpots[i];

  new Chart(cv, {
    type: 'scatter',
    data: {
      datasets: loops[i].map((loop, s) => ({
        label: seriesLabels[s],
        data: loop,
        showLine: true,
        borderColor: seriesColors[s],
        backgroundColor: seriesColors[s],
        borderWidth: s === 0 ? 1.9 : 2.6,
        pointRadius: 0,
        tension: 0.15,
        order: 2 - s
      }))
    },
    options: {
      responsive: false,
      animation: false,
      devicePixelRatio: 1,
      layout: { padding: { left: 0, top: PAD_T, right: PAD_R, bottom: 0 } },
      plugins: {
        legend: { display: false },
        tooltip: { enabled: false },
        cvNotes: { panel: i }
      },
      scales: {
        x: {
          type: 'linear',
          min: 2,
          max: 4,
          afterFit: s => { s.height = X_H; },
          afterBuildTicks: s => { s.ticks = xTickValues.map(v => ({ value: v })); },
          ticks: {
            autoSkip: false,
            maxRotation: 0,
            padding: 2,
            color: '#000',
            font: { size: 12, weight: 'bold' },
            callback: v => hasLabel(voltTicks, v) ? v.toFixed(1) : ''
          },
          grid: { drawOnChartArea: false, drawTicks: true, tickLength: 4, tickWidth: 1.5, tickColor: '#000' },
          border: { display: true, color: '#000', width: 2 },
          title: {
            display: true,
            text: 'Voltage (V)',
            color: '#000',
            font: { size: 17, weight: 'bold' },
            padding: { top: 0, bottom: ch - (tY - ct) - 10.2 }
          }
        },
        y: {
          type: 'linear',
          min: -0.1,
          max: 1.1,
          afterFit: s => { s.width = Y_W; },
          afterBuildTicks: s => { s.ticks = yTickValues.map(v => ({ value: v })); },
          ticks: {
            autoSkip: false,
            padding: 2,
            color: '#000',
            font: { size: 12, weight: 'bold' },
            callback: v => hasLabel(currentTicks, v) ? v.toFixed(1) : ''
          },
          grid: { drawOnChartArea: false, drawTicks: true, tickLength: 4, tickWidth: 1.5, tickColor: '#000' },
          border: { display: true, color: '#000', width: 2 },
          title: {
            display: true,
            text: 'Current (mA)',
            color: '#000',
            font: { size: 17, weight: 'bold' },
            padding: { top: tX - cl - 10.2, bottom: 0 }
          }
        }
      }
    }
  });
});
</script>
</body>
</html>
